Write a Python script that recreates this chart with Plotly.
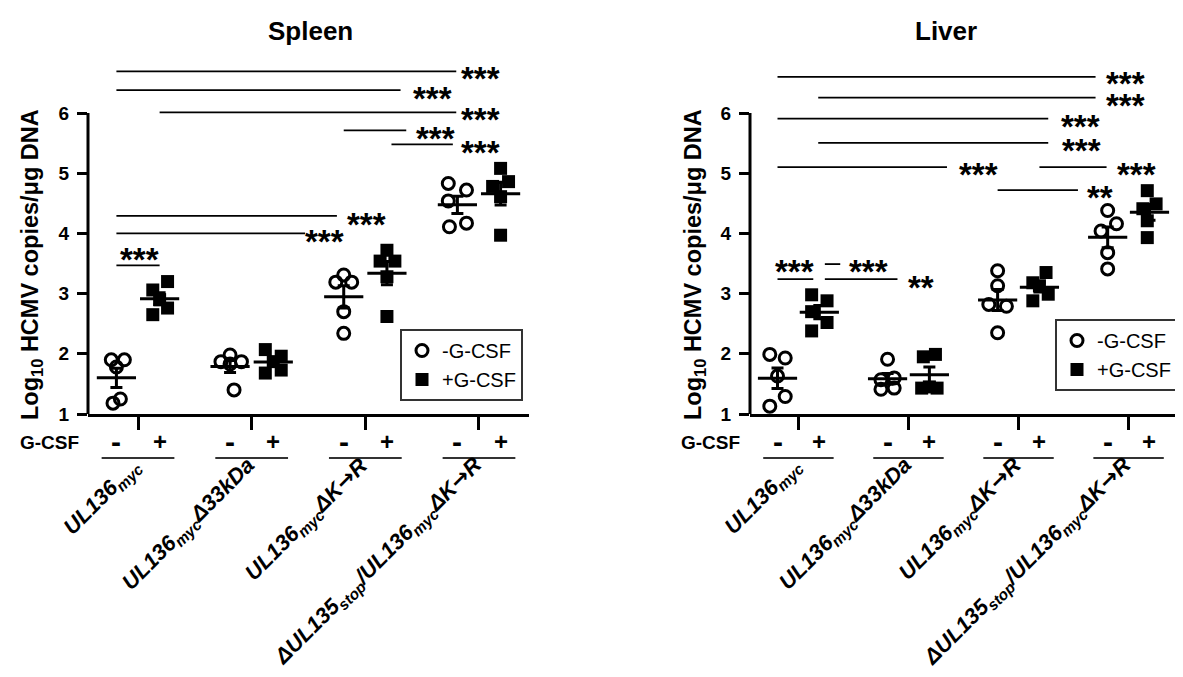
import numpy as np
import plotly.graph_objects as go

W, H = 1183, 677
FONT = "Liberation Sans, Arial, Helvetica, sans-serif"
ARROW = '<span style="font-family:DejaVu Sans">→</span>'

# ---------------- data ----------------
groups = [
    "UL136<sub>myc</sub>",
    "UL136<sub>myc</sub>Δ33kDa",
    "UL136<sub>myc</sub>ΔK" + ARROW + "R",
    "ΔUL135<sub>stop</sub>/UL136<sub>myc</sub>ΔK" + ARROW + "R",
]
conditions = ["-G-CSF", "+G-CSF"]
gcsf_signs = ["-", "+"]

# Log10 HCMV copies / ug DNA, 5 mice per group
spleen_minus = [[1.90, 1.90, 1.78, 1.18, 1.25],
                [1.98, 1.87, 1.87, 1.83, 1.40],
                [3.31, 3.19, 3.19, 2.70, 2.34],
                [4.83, 4.72, 4.54, 4.11, 4.17]]
spleen_plus = [[3.06, 3.20, 2.90, 2.65, 2.76],
               [2.07, 1.96, 1.87, 1.68, 1.73],
               [3.72, 3.54, 3.54, 3.28, 2.62],
               [5.08, 4.86, 4.78, 4.61, 3.97]]
liver_minus = [[1.99, 1.93, 1.63, 1.29, 1.13],
               [1.91, 1.57, 1.60, 1.41, 1.43],
               [3.38, 3.13, 2.82, 2.79, 2.35],
               [4.38, 4.04, 4.16, 3.68, 3.41]]
liver_plus = [[2.98, 2.88, 2.70, 2.52, 2.38],
              [1.99, 1.95, 1.43, 1.43, 1.45],
              [3.35, 3.18, 3.13, 2.99, 2.88],
              [4.71, 4.49, 4.41, 4.21, 3.93]]

# horizontal scatter spread of each dot (category units)
spleen_minus_jit = [[-0.045, 0.07, 0.0, -0.03, 0.035],
                    [0.0, -0.08, 0.10, 0.0, 0.035],
                    [0.0, -0.07, 0.07, 0.0, 0.0],
                    [-0.08, 0.08, -0.08, -0.07, 0.08]]
spleen_plus_jit = [[-0.06, 0.07, 0.0, -0.06, 0.07],
                   [-0.07, 0.07, 0.0, -0.07, 0.07],
                   [0.0, -0.06, 0.07, 0.0, 0.0],
                   [0.0, 0.07, -0.07, 0.0, 0.0]]
liver_minus_jit = [[-0.07, 0.07, 0.0, 0.07, -0.07],
                   [0.0, -0.06, 0.06, -0.06, 0.06],
                   [0.0, 0.0, -0.08, 0.08, 0.0],
                   [0.0, -0.06, 0.08, 0.0, 0.0]]
liver_plus_jit = [[-0.07, 0.07, -0.07, 0.07, -0.07],
                  [0.055, -0.055, -0.07, 0.07, 0.0],
                  [0.06, -0.06, 0.0, 0.08, -0.06],
                  [-0.02, 0.06, -0.06, -0.02, -0.02]]

# significance comparisons: (x start, x end, bar level, label, label x, label level)
spleen_sig = [(-0.19, 2.80, 6.69, "***", 3.01, 6.69),
              (-0.19, 2.31, 6.38, "***", 2.59, 6.36),
              (0.19, 2.80, 6.01, "***", 3.01, 6.00),
              (1.81, 2.36, 5.71, "***", 2.62, 5.69),
              (2.23, 2.77, 5.48, "***", 3.01, 5.46),
              (-0.19, 1.75, 4.29, "***", 2.01, 4.27),
              (-0.19, 1.47, 4.00, "***", 1.64, 3.98),
              (-0.19, 0.19, 3.47, "***", 0.01, 3.69)]
liver_sig = [(-0.19, 2.70, 6.60, "***", 2.97, 6.60),
             (0.18, 2.70, 6.255, "***", 2.97, 6.24),
             (-0.19, 2.27, 5.905, "***", 2.56, 5.90),
             (0.18, 2.27, 5.505, "***", 2.57, 5.49),
             (-0.19, 1.35, 5.10, "***", 1.64, 5.09),
             (2.19, 2.80, 5.10, "***", 3.07, 5.09),
             (1.81, 2.54, 4.72, "**", 2.74, 4.71),
             (-0.19, 0.135, 3.24, "***", -0.04, 3.49),
             (0.24, 0.90, 3.24, "**", 1.11, 3.21),
             (0.24, 0.38, 3.49, "***", 0.64, 3.49)]

y_ticks = [1, 2, 3, 4, 5, 6]

# ---------------- layout helpers ----------------
def fx(px):
    return px / W


def fy(py):
    return 1 - py / H


X_RANGE = [-0.44, 3.44]
Y_RANGE = [1, 6.9]
Y_BOTTOM_PX = 406
UNIT_PX = 60.2
y_dom = [fy(Y_BOTTOM_PX), fy(Y_BOTTOM_PX - (Y_RANGE[1] - Y_RANGE[0]) * UNIT_PX)]
cond_offset = [-0.19, 0.19]

panels = [
    dict(title="Spleen", xa="x", ya="y", dom=(80, 521), legend="legend",
         minus=spleen_minus, plus=spleen_plus,
         jm=spleen_minus_jit, jp=spleen_plus_jit, sig=spleen_sig,
         title_x=302, ytitle_x=23, gcsf_x=10, leg=(515, 321)),
    dict(title="Liver", xa="x2", ya="y2", dom=(742, 1169), legend="legend2",
         minus=liver_minus, plus=liver_plus,
         jm=liver_minus_jit, jp=liver_plus_jit, sig=liver_sig,
         title_x=938, ytitle_x=686, gcsf_x=671, leg=(1170, 311)),
]

fig = go.Figure()
shapes = []
annotations = []
layout_axes = {}

for p in panels:
    xa, ya = p["xa"], p["ya"]
    # dots
    for ci, (vals, jit) in enumerate([(p["minus"], p["jm"]), (p["plus"], p["jp"])]):
        xs, ys = [], []
        for gi in range(len(groups)):
            for v, j in zip(vals[gi], jit[gi]):
                xs.append(gi + cond_offset[ci] + j)
                ys.append(v)
        if ci == 0:
            marker = dict(symbol="circle-open", size=12, color="black",
                          line=dict(width=3, color="black"))
        else:
            marker = dict(symbol="square", size=13, color="black",
                          line=dict(width=0))
        fig.add_trace(go.Scatter(x=xs, y=ys, mode="markers", marker=marker,
                                 name=conditions[ci], legend=p["legend"],
                                 xaxis=xa, yaxis=ya, cliponaxis=False,
                                 hoverinfo="skip"))
    # mean +/- SEM
    for ci, vals in enumerate([p["minus"], p["plus"]]):
        arr = np.array(vals)
        means = arr.mean(axis=1)
        sems = arr.std(axis=1, ddof=1) / np.sqrt(arr.shape[1])
        fig.add_trace(go.Scatter(
            x=[gi + cond_offset[ci] for gi in range(len(groups))], y=means,
            mode="markers",
            marker=dict(symbol="line-ew", size=28, color="black",
                        line=dict(width=3, color="black")),
            error_y=dict(type="data", array=sems, width=6, thickness=3,
                         color="black"),
            showlegend=False, xaxis=xa, yaxis=ya, cliponaxis=False,
            hoverinfo="skip"))

    # axes
    xkey = "xaxis" if xa == "x" else "xaxis2"
    ykey = "yaxis" if ya == "y" else "yaxis2"
    layout_axes[xkey] = dict(domain=[fx(p["dom"][0]), fx(p["dom"][1])], anchor=ya,
                             range=X_RANGE, tickvals=list(range(len(groups))),
                             showticklabels=False, ticks="outside", ticklen=13,
                             tickwidth=3, tickcolor="black", showline=True,
                             linewidth=3, linecolor="black", showgrid=False,
                             zeroline=False, fixedrange=True)
    layout_axes[ykey] = dict(domain=y_dom, anchor=xa, range=Y_RANGE,
                             tickvals=y_ticks,
                             ticktext=[f"<b>{t}</b>" for t in y_ticks],
                             tickfont=dict(family=FONT, size=19, color="black"),
                             ticks="outside", ticklen=10, tickwidth=3,
                             tickcolor="black", ticklabelstandoff=4,
                             showline=False, showgrid=False, zeroline=False,
                             fixedrange=True)
    # y axis line only from 1 to 6
    shapes.append(dict(type="line", xref=f"{xa} domain", yref=ya, x0=0, x1=0,
                       y0=y_ticks[0], y1=y_ticks[-1],
                       line=dict(color="black", width=3)))

    # significance bars
    for (x0, x1, yl, lab, lx, ly) in p["sig"]:
        shapes.append(dict(type="line", xref=xa, yref=ya, x0=x0, x1=x1, y0=yl, y1=yl,
                           line=dict(color="black", width=1.8)))
        annotations.append(dict(x=lx, y=ly, xref=xa, yref=ya, text=f"<b>{lab}</b>",
                                showarrow=False, font=dict(family=FONT, size=33, color="black"),
                                xanchor="center", yanchor="middle", yshift=-7))

    # title
    annotations.append(dict(x=fx(p["title_x"]), y=fy(23), xref="paper", yref="paper",
                            text=f"<b>{p['title']}</b>", showarrow=False,
                            font=dict(family=FONT, size=26, color="black"),
                            xanchor="center", yanchor="middle"))
    # y title
    annotations.append(dict(x=fx(p["ytitle_x"]), y=fy(257), xref="paper", yref="paper",
                            text="<b>Log<sub>10</sub> HCMV copies/μg DNA</b>",
                            showarrow=False, textangle=-90,
                            font=dict(family=FONT, size=23.5, color="black"),
                            xanchor="center", yanchor="middle"))
    # G-CSF row
    annotations.append(dict(x=fx(p["gcsf_x"]), y=fy(434), xref="paper", yref="paper",
                            text="<b>G-CSF</b>", showarrow=False,
                            font=dict(family=FONT, size=19, color="black"),
                            xanchor="left", yanchor="middle"))
    for gi, lab in enumerate(groups):
        for ci, s in enumerate(gcsf_signs):
            annotations.append(dict(x=gi + cond_offset[ci], y=fy(433), xref=xa, yref="paper",
                                    text=f"<b>{s}</b>", showarrow=False,
                                    font=dict(family=FONT, size=30 if s == "-" else 24,
                                              color="black"),
                                    xanchor="center", yanchor="middle"))
        shapes.append(dict(type="line", xref=xa, yref="paper", x0=gi - 0.32, x1=gi + 0.32,
                           y0=fy(450), y1=fy(450), line=dict(color="#333333", width=2)))
        annotations.append(dict(x=gi, y=fy(442), xref=xa, yref="paper",
                                text=f"<b><i>{lab}</i></b>", showarrow=False,
                                textangle=-45, xanchor="right", yanchor="top", xshift=12,
                                font=dict(family=FONT, size=22, color="black")))

legend_style = dict(xanchor="right", yanchor="top", bordercolor="#333333", borderwidth=2,
                    bgcolor="white", font=dict(family=FONT, size=20, color="black"),
                    tracegroupgap=0, itemsizing="trace")

fig.update_layout(
    width=W, height=H,
    margin=dict(l=0, r=0, t=0, b=0, autoexpand=False),
    paper_bgcolor="white", plot_bgcolor="white",
    font=dict(family=FONT, color="black"),
    showlegend=True,
    legend=dict(x=fx(panels[0]["leg"][0]), y=fy(panels[0]["leg"][1]), **legend_style),
    legend2=dict(x=fx(panels[1]["leg"][0]), y=fy(panels[1]["leg"][1]), **legend_style),
    shapes=shapes, annotations=annotations,
    **layout_axes,
)

fig.write_html("out.html")
